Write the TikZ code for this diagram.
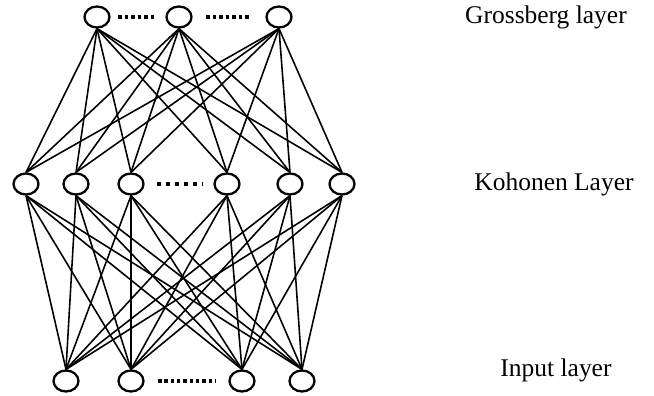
\documentclass[tikz,border=0pt]{standalone}
\usepackage{fontspec}
\setmainfont{Liberation Serif}
\usetikzlibrary{shapes.geometric}

\begin{document}
\begin{tikzpicture}[
  x=0.02cm, y=-0.02cm,
  neuron/.style = {draw, ellipse, line width=1.3pt, minimum width=0.5cm,
                   minimum height=0.42cm, inner sep=0pt},
  link/.style   = {line width=0.9pt},
  gdots/.style  = {line width=2pt, dash pattern=on 2pt off 1.7pt},
  kdots/.style  = {line width=2.3pt, dash pattern=on 2.3pt off 2.8pt},
  idots/.style  = {line width=2pt, dash pattern=on 2pt off 1.6pt},
  lyrlbl/.style = {anchor=base, font=\fontsize{14.5}{17}\selectfont}
]
\useasboundingbox (0,0) rectangle (654,396);

%% ===== Grossberg layer =====
\node[neuron] (g1) at ( 97,17) {};
\node[neuron] (g2) at (179,17) {};
\node[neuron] (g3) at (279,17) {};
\draw[gdots] (118,17) -- (155,17);
\draw[gdots] (206,17) -- (250,17);

%% ===== Kohonen layer =====
\node[neuron] (k1) at ( 26,184) {};
\node[neuron] (k2) at ( 76,184) {};
\node[neuron] (k3) at (131,184) {};
\node[neuron] (k4) at (227,184) {};
\node[neuron] (k5) at (290,184) {};
\node[neuron] (k6) at (342,184) {};
\draw[kdots] (157,184) -- (203,184);

%% ===== Input layer =====
\node[neuron] (i1) at ( 66,381) {};
\node[neuron] (i2) at (131,381) {};
\node[neuron] (i3) at (242,381) {};
\node[neuron] (i4) at (302,381) {};
\draw[idots] (158,381) -- (216,381);

%% ===== Connections =====
\foreach \a in {1,2,3}
  \foreach \b in {1,...,6}
    \draw[link] (g\a.south) -- (k\b.north);
\foreach \b in {1,...,6}
  \foreach \c in {1,...,4}
    \draw[link] (k\b.south) -- (i\c.north);

%% ===== Layer labels =====
\node[lyrlbl] (glbl) at (546, 23) {Grossberg layer};
\node[lyrlbl] (klbl) at (554,190) {Kohonen Layer};
\node[lyrlbl] (ilbl) at (556,376) {Input layer};

\end{tikzpicture}
\end{document}
